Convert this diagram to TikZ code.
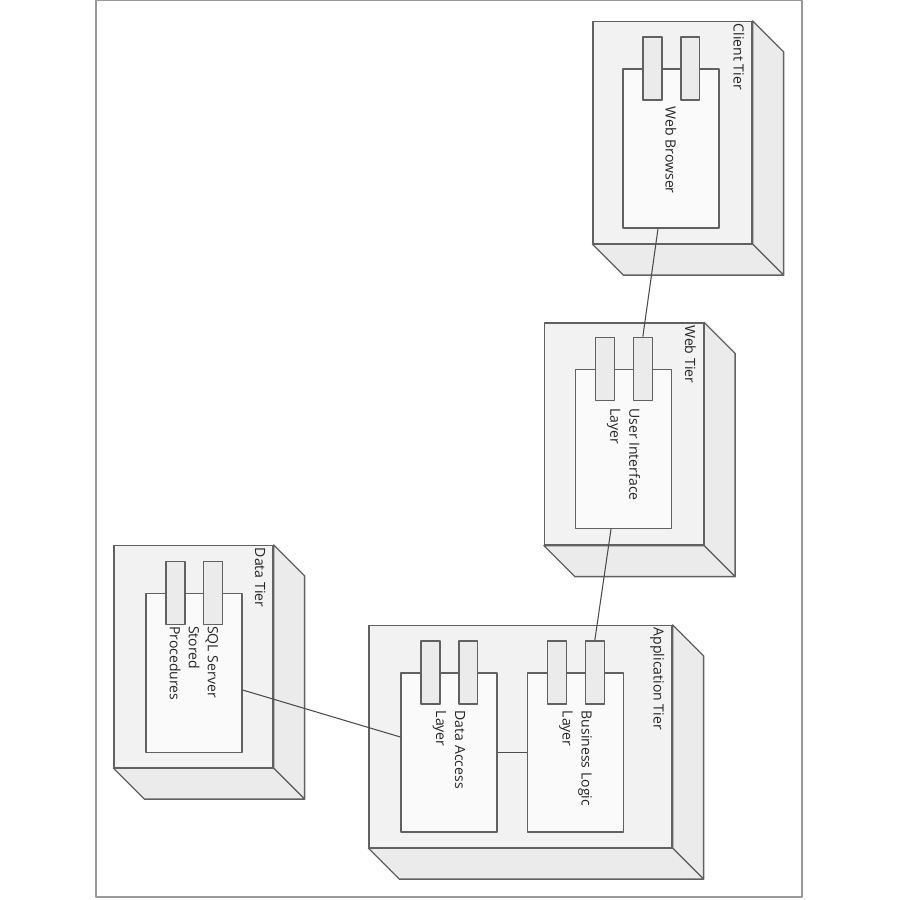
\documentclass[tikz,border=0pt]{standalone}
\usepackage{fontspec}
\setmainfont{Open Sans}
\begin{document}
\begin{tikzpicture}[x=0.02cm,y=-0.02cm,line join=round,
  tier/.style={draw=black!62,fill=black!5,line width=.75pt,minimum width=3.18cm,minimum height=4.44cm,inner sep=0},
  depth/.style={draw=black!62,fill=black!8,line width=.75pt},
  comp/.style={draw=black!62,fill=black!2,line width=.75pt,minimum width=1.92cm,minimum height=3.18cm,inner sep=0},
  tab/.style={draw=black!62,fill=black!8,line width=.75pt,minimum width=.38cm,minimum height=1.26cm,inner sep=0},
  lbl/.style={rotate=-90,font=\fontsize{8}{10.8}\selectfont,text=black!85,align=left,inner sep=0},
  tiername/.style={lbl,anchor=north west,inner xsep=1.5pt,inner ysep=4.5pt},
  link/.style={draw=black!70,line width=.6pt}]
\useasboundingbox (0,0) rectangle (900,900);
\draw[black!40,line width=.8pt] (96,0) rectangle (802,897);
\node[tier] (client) at (672.5,132.5) {};
\node[tier] (web) at (624,434) {};
\node[tier,minimum width=6.06cm] (app) at (520.5,736.5) {};
\node[tier] (data) at (193.5,656.5) {};
\foreach \t in {client,web,app,data}{
  \draw[depth] (\t.north east) -- ++(31,31) -- ([shift={(31,31)}]\t.south east) -- (\t.south east) -- cycle;
  \draw[depth] (\t.south west) -- ++(31,31) -- ([shift={(31,31)}]\t.south east) -- (\t.south east) -- cycle;
}
\node[tiername] at (client.north east) {Client Tier};
\node[tiername] at (web.north east) {Web Tier};
\node[tiername] at (app.north east) {Application Tier};
\node[tiername] at (data.north east) {Data Tier};
\node[comp] (browser) at (671,148.5) {};
\node[comp] (ui) at (623.5,449) {};
\node[comp] (dal) at (449,752.5) {};
\node[comp] (bll) at (575.5,752.5) {};
\node[comp] (sql) at (194,673) {};
\foreach \c in {browser,ui,dal,bll,sql}{
  \node[tab] (\c-a) at ([xshift=.6cm]\c.north west) {};
  \node[tab] (\c-b) at ([xshift=1.36cm]\c.north west) {};
}
\node[lbl,anchor=west] at ([yshift=-.76cm]browser.north) {Web Browser};
\node[lbl,anchor=west] at ([yshift=-.78cm]ui.north) {User Interface\\Layer};
\node[lbl,anchor=west] at ([yshift=-.76cm]dal.north) {Data Access\\Layer};
\node[lbl,anchor=west] at ([yshift=-.76cm]bll.north) {Business Logic\\Layer};
\node[lbl,anchor=west] at ([yshift=-.66cm]sql.north) {SQL Server\\Stored\\Procedures};
\draw[link] ([xshift=-.26cm]browser.south) -- (ui-b.north);
\draw[link] ([xshift=-.25cm]ui.south) -- (bll-b.north);
\draw[link] ([yshift=-.34cm]sql.east) -- ([yshift=.31cm]dal.west);
\draw[link] (dal.east) -- (bll.west);
\end{tikzpicture}
\end{document}
